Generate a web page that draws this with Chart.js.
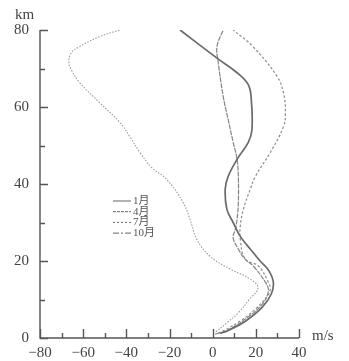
<!DOCTYPE html>
<html>
<head>
<meta charset="utf-8">
<script src="https://cdn.jsdelivr.net/npm/chart.js@4/dist/chart.umd.min.js"></script>
<style>
html, body { margin: 0; padding: 0; background: #fff; }
</style>
</head>
<body>
<canvas id="windChart" width="349" height="361"></canvas>
<script>
// months and wind profiles (speed m/s, height km)
var months = ['1月', '4月', '7月', '10月'];

var janSpeed  = [3.5, 7, 15, 23, 27.2, 28.1, 26, 22, 17.4, 12.8, 9.5, 6.6, 5.8, 7.2, 11.3, 16.5, 18.2, 17.9, 16.5, 11.3, 2, -15.1];
var janHeight = [1.2, 1.9, 4.3, 8, 11.5, 14.5, 17.5, 20, 23.1, 26.4, 30, 33.4, 38.6, 42, 46.4, 50.8, 54.1, 61.9, 65.8, 68.9, 72.7, 80];

var aprSpeed  = [1.2, 7.2, 15.1, 23, 25.8, 24.4, 18.8, 15, 12, 9.5, 10.5, 11.3, 11.9, 11.9, 11.3, 9.5, 7.2, 4.9, 2.6, 2, 4.9];
var aprHeight = [1, 2.1, 4.9, 8.8, 12.2, 14.5, 18.7, 20.5, 23, 26, 28.2, 30.8, 35.2, 41.7, 46.4, 50.8, 56.7, 62.7, 71.5, 75.7, 80];

var julSpeed  = [1.5, 6.7, 11.8, 17, 21, 17.4, 8.1, -1.2, -7.3, -10.5, -13.7, -21.3, -28.3, -33.7, -38.4, -43, -52.3, -61.6, -65.5, -66.6, -65.5, -61.6, -52.3, -43];
var julHeight = [1.6, 4, 6.5, 10, 13, 15.3, 17.9, 21.2, 25.6, 30.8, 35.2, 41.2, 44.3, 48.2, 52.3, 56, 61.1, 66.3, 69.7, 71.5, 74.1, 75.7, 78.3, 80];

var octSpeed  = [2.6, 5.8, 12.8, 19.8, 25.3, 26.7, 25.8, 21.2, 15.1, 12.8, 12.8, 14.2, 17.4, 19.8, 26.7, 32.8, 33.7, 32.8, 29.9, 18.8, 9.5];
var octHeight = [1.3, 2.1, 4.4, 7.5, 10.9, 12.7, 14.5, 18.7, 20.5, 25.6, 29, 33.4, 38.6, 42, 48.2, 54.9, 58.5, 63.7, 67.9, 75.6, 80];

// axis ranges and tick labels
var xMin = -80, xMax = 40, xStep = 10;
var yMin = 0, yMax = 80, yStep = 10;
var xTickLabels = ['−80', '−60', '−40', '−20', '0', '20', '40'];
var yTickLabels = ['0', '20', '40', '60', '80'];

function toPoints(speed, height) {
    var pts = [];
    for (var i = 0; i < speed.length; i++) {
        pts.push({x: speed[i], y: height[i]});
    }
    return pts;
}

// draws the inward tick marks, axis lines, units and the in-plot legend
var axisPlugin = {
    id: 'axisPlugin',
    afterDraw: function(chart) {
        var ctx = chart.ctx;
        var xs = chart.scales.x, ys = chart.scales.y;
        var x0 = xs.getPixelForValue(xMin), y0 = ys.getPixelForValue(yMin);
        ctx.save();
        ctx.strokeStyle = '#555';
        ctx.lineWidth = 1.4;
        ctx.beginPath();
        ctx.moveTo(x0, ys.getPixelForValue(yMax));
        ctx.lineTo(x0, y0);
        ctx.lineTo(xs.getPixelForValue(xMax), y0);
        for (var v = xMin; v <= xMax; v += xStep) {
            var px = Math.round(xs.getPixelForValue(v)) + 0.5;
            var len = (v % 20 === 0) ? 9 : 5;
            ctx.moveTo(px, y0);
            ctx.lineTo(px, y0 - len);
        }
        for (var h = yMin; h <= yMax; h += yStep) {
            var py = Math.round(ys.getPixelForValue(h)) + 0.5;
            var hl = (h % 20 === 0) ? 8 : 5;
            ctx.moveTo(x0, py);
            ctx.lineTo(x0 + hl, py);
        }
        ctx.stroke();

        // units
        ctx.fillStyle = '#444';
        ctx.font = '15px "Liberation Serif", "DejaVu Serif", serif';
        ctx.textBaseline = 'alphabetic';
        ctx.textAlign = 'left';
        ctx.fillText('km', 15, 19);
        ctx.fillText('m/s', 312, 340);

        // legend
        var lx = 113, ly = 201, rowH = 10.7;
        ctx.font = '11px "Liberation Serif", "Noto Sans CJK SC", serif';
        ctx.textBaseline = 'middle';
        chart.data.datasets.forEach(function(ds, i) {
            var yy = ly + i * rowH;
            ctx.strokeStyle = '#666';
            ctx.lineWidth = 1;
            ctx.setLineDash(ds.legendDash || []);
            ctx.beginPath();
            ctx.moveTo(lx, yy);
            ctx.lineTo(lx + 18, yy);
            ctx.stroke();
            ctx.setLineDash([]);
            ctx.fillStyle = '#555';
            ctx.fillText(ds.label, lx + 20, yy);
        });
        ctx.restore();
    }
};

function setChart() {
    var ctx = document.getElementById('windChart').getContext('2d');
    Chart.defaults.font.family = '"Liberation Serif", "DejaVu Serif", serif';
    Chart.defaults.color = '#444';

    var chartData = {
        datasets: [
        {
            label: months[0],
            data: toPoints(janSpeed, janHeight),
            borderColor: '#6a6a6a',
            borderWidth: 1.7,
            legendDash: []
        },
        {
            label: months[1],
            data: toPoints(aprSpeed, aprHeight),
            borderColor: '#858585',
            borderWidth: 1.2,
            borderDash: [5, 1],
            legendDash: [3, 1]
        },
        {
            label: months[2],
            data: toPoints(julSpeed, julHeight),
            borderColor: '#9a9a9a',
            borderWidth: 1.1,
            borderDash: [1.5, 1.5],
            legendDash: [2, 2]
        },
        {
            label: months[3],
            data: toPoints(octSpeed, octHeight),
            borderColor: '#8c8c8c',
            borderWidth: 1.2,
            borderDash: [2.5, 2],
            legendDash: [6, 2, 2, 2]
        }
        ]
    };

    new Chart(ctx, {
        type: 'scatter',
        data: chartData,
        options: {
            responsive: false,
            animation: false,
            showLine: true,
            elements: {
                point: { radius: 0 },
                line: { tension: 0.4, fill: false }
            },
            layout: { padding: { top: 30, right: 50, left: 0, bottom: 0 } },
            plugins: {
                legend: { display: false },
                tooltip: { enabled: false }
            },
            scales: {
                x: {
                    type: 'linear',
                    min: xMin,
                    max: xMax,
                    grid: { display: false, drawTicks: false },
                    border: { display: false },
                    ticks: {
                        stepSize: xStep,
                        autoSkip: false,
                        maxRotation: 0,
                        padding: 6,
                        font: { size: 15 },
                        color: '#444',
                        callback: function(value) {
                            if (value % 20 !== 0) return '';
                            return xTickLabels[(value - xMin) / 20];
                        }
                    },
                    afterFit: function(scale) { scale.height = 23; }
                },
                y: {
                    type: 'linear',
                    min: yMin,
                    max: yMax,
                    grid: { display: false, drawTicks: false },
                    border: { display: false },
                    ticks: {
                        stepSize: yStep,
                        autoSkip: false,
                        padding: 11,
                        font: { size: 15 },
                        color: '#444',
                        callback: function(value) {
                            if (value % 20 !== 0) return '';
                            return yTickLabels[(value - yMin) / 20];
                        }
                    },
                    afterFit: function(scale) { scale.width = 40; }
                }
            }
        },
        plugins: [axisPlugin]
    });
}

setChart();
</script>
</body>
</html>
